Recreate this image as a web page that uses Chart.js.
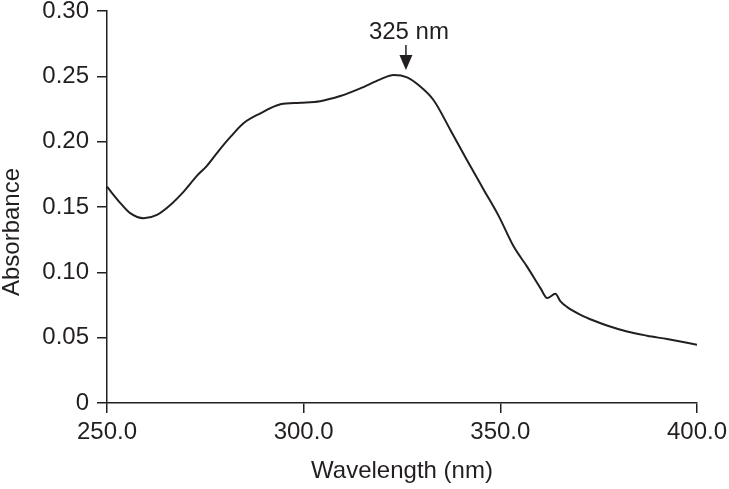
<!DOCTYPE html>
<html>
<head>
<meta charset="utf-8">
<script src="https://cdn.jsdelivr.net/npm/chart.js@4/dist/chart.umd.min.js"></script>
<style>
    html, body { margin: 0; padding: 0; background: #fff; }
    #wrap { width: 729px; height: 489px; }
</style>
</head>
<body>
<div id="wrap"><canvas id="chart"></canvas></div>
<script>
// spectrum
const wavelengths = [250, 253.4, 255.9, 259.3, 262.7, 266.1, 269.5, 272.9, 275.4, 278.4, 281.5, 284.7, 289, 294.1, 299.2,
    304.2, 309.3, 314.4, 319.5, 322.9, 326.3, 329.2, 333, 337.3, 341.5, 345.8, 349.6, 353.4, 356.8, 360.2,
    361.9, 364, 365.3, 367, 370.4, 373.7, 377.1, 382.2, 387.3, 392.4, 400]
const absorbance = [0.1655, 0.153, 0.1453, 0.1414, 0.144, 0.1516, 0.1618, 0.174, 0.1815, 0.193, 0.204, 0.2141, 0.2217, 0.2286, 0.2298,
    0.2310, 0.2349, 0.2408, 0.2477, 0.2510, 0.2492, 0.2433, 0.2319, 0.209, 0.186, 0.1631, 0.143, 0.1197, 0.1044, 0.0879,
    0.0803, 0.0836, 0.0777, 0.0734, 0.0675, 0.0631, 0.0593, 0.0547, 0.0515, 0.0489, 0.0446]

const xTicks = [250, 300, 350, 400]
const yTicks = [0, 0.05, 0.10, 0.15, 0.20, 0.25, 0.30]

const xTitle = "Wavelength (nm)"
const yTitle = "Absorbance"

const peakLabel = "325 nm"
const peakX = 326
const arrowTop = 0.274
const arrowTip = 0.2548

const font = "'Liberation Sans', Arial, sans-serif"
const ink = "#231f20"

const extras = {
    id: "extras",
    afterDraw(chart) {
        const ctx = chart.ctx
        const x = chart.scales.x.getPixelForValue(peakX)
        const yTop = chart.scales.y.getPixelForValue(arrowTop)
        const yTip = chart.scales.y.getPixelForValue(arrowTip)
        ctx.save()
        ctx.fillStyle = ink
        ctx.strokeStyle = ink
        ctx.lineWidth = 1.5
        ctx.font = `24px ${font}`
        ctx.textAlign = "center"
        ctx.textBaseline = "alphabetic"
        ctx.fillText(peakLabel, x + 3, yTop - 6)
        ctx.beginPath()
        ctx.moveTo(x, yTop)
        ctx.lineTo(x, yTip - 13)
        ctx.stroke()
        ctx.beginPath()
        ctx.moveTo(x - 6.5, yTip - 15)
        ctx.lineTo(x + 6.5, yTip - 15)
        ctx.lineTo(x, yTip)
        ctx.closePath()
        ctx.fill()

        // y title, sits a bit below the middle of the axis
        ctx.translate(12, 232)
        ctx.rotate(-Math.PI / 2)
        ctx.textBaseline = "middle"
        ctx.fillText(yTitle, 0, 0)
        ctx.restore()
    }
}

new Chart(document.querySelector("#chart"), {
    type: "line",
    data: {
        datasets: [{
            data: wavelengths.map((w, i) => ({ x: w, y: absorbance[i] })),
            borderColor: ink,
            borderWidth: 2,
            pointRadius: 0,
            cubicInterpolationMode: "monotone",
            fill: false
        }]
    },
    options: {
        responsive: true,
        maintainAspectRatio: false,
        animation: false,
        layout: { padding: { top: 11, right: 32, left: 0, bottom: 0 } },
        plugins: { legend: { display: false }, tooltip: { enabled: false } },
        scales: {
            x: {
                type: "linear",
                min: 250,
                max: 400,
                afterBuildTicks: s => { s.ticks = xTicks.map(v => ({ value: v })) },
                afterFit: s => {
                    s.height = 86
                    s.paddingLeft = 0
                    s.paddingRight = 0
                },
                border: { display: true, color: ink, width: 1.5 },
                grid: { drawOnChartArea: false, drawTicks: true, tickLength: 10, color: ink, lineWidth: 1.5 },
                ticks: {
                    color: ink,
                    font: { family: font, size: 24 },
                    padding: 5,
                    maxRotation: 0,
                    callback: v => v.toFixed(1)
                },
                title: {
                    display: true,
                    text: xTitle,
                    color: ink,
                    font: { family: font, size: 24 },
                    padding: { top: 0, bottom: 3 }
                }
            },
            y: {
                min: 0,
                max: 0.3,
                afterBuildTicks: s => { s.ticks = yTicks.map(v => ({ value: v })) },
                afterFit: s => {
                    s.width = 107
                    s.paddingTop = 0
                    s.paddingBottom = 0
                },
                border: { display: true, color: ink, width: 1.5 },
                grid: { drawOnChartArea: false, drawTicks: true, tickLength: 10, color: ink, lineWidth: 1.5 },
                ticks: {
                    color: ink,
                    font: { family: font, size: 24 },
                    padding: 8,
                    callback: v => v === 0 ? "0" : v.toFixed(2)
                }
            }
        }
    },
    plugins: [extras]
})
</script>
</body>
</html>
